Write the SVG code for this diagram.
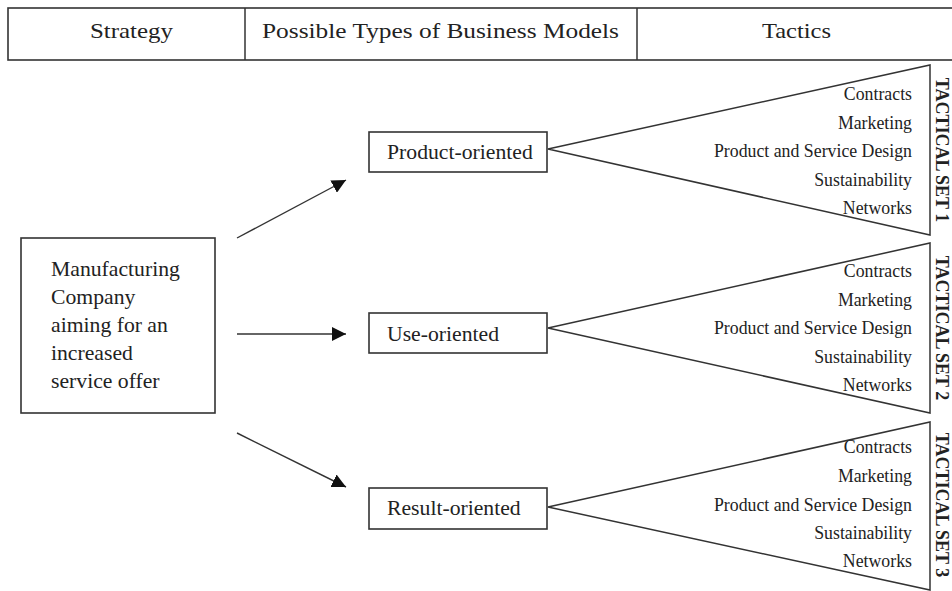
<svg xmlns="http://www.w3.org/2000/svg" width="952" height="591" viewBox="0 0 952 591">
<defs>
<marker id="ah" viewBox="0 0 10 10" refX="10" refY="5" markerWidth="14" markerHeight="14" markerUnits="userSpaceOnUse" orient="auto">
<path d="M0,0 L10,5 L0,10 z" fill="#111"/>
</marker>
<style>
.ln{fill:none;stroke:#333;stroke-width:1.5}
.box{fill:#fff;stroke:#333;stroke-width:1.6}
.hd{font-family:"Liberation Serif","Times New Roman",serif;font-size:22px;fill:#222;text-anchor:middle}
.nt{font-family:"Liberation Serif","Times New Roman",serif;font-size:21.7px;fill:#222}
.lb{font-family:"Liberation Serif","Times New Roman",serif;font-size:17.8px;fill:#222;text-anchor:end}
.ts{font-family:"Liberation Serif","Times New Roman",serif;font-size:18px;font-weight:bold;fill:#222;text-anchor:middle}
.con{fill:none;stroke:#333;stroke-width:1.4}
</style>
</defs>
<rect width="952" height="591" fill="#fff"/>

<g id="header">
<rect x="8" y="8" width="950" height="52" class="box"/>
<line x1="245" y1="8" x2="245" y2="60" class="ln"/>
<line x1="637" y1="8" x2="637" y2="60" class="ln"/>
<text x="131.5" y="38" class="hd" textLength="83" lengthAdjust="spacingAndGlyphs">Strategy</text>
<text x="440.5" y="38" class="hd" textLength="357" lengthAdjust="spacingAndGlyphs">Possible Types of Business Models</text>
<text x="796.5" y="38" class="hd" textLength="69" lengthAdjust="spacingAndGlyphs">Tactics</text>
</g>

<g id="connectors">
<line x1="237" y1="238" x2="346" y2="180" class="con" marker-end="url(#ah)"/>
<line x1="237" y1="334" x2="346" y2="334" class="con" marker-end="url(#ah)"/>
<line x1="237" y1="433" x2="346" y2="487" class="con" marker-end="url(#ah)"/>
</g>

<g id="strategy">
<rect x="21" y="238" width="194" height="175" class="box"/>
<text class="nt" x="51" y="276">Manufacturing</text>
<text class="nt" x="51" y="304">Company</text>
<text class="nt" x="51" y="332">aiming for an</text>
<text class="nt" x="51" y="360">increased</text>
<text class="nt" x="51" y="388">service offer</text>
</g>

<g id="product-oriented">
<rect x="369" y="132" width="178" height="40" class="box"/>
<text class="nt" x="387" y="159">Product-oriented</text>
</g>
<g id="use-oriented">
<rect x="369" y="313" width="178" height="40" class="box"/>
<text class="nt" x="387" y="341">Use-oriented</text>
</g>
<g id="result-oriented">
<rect x="369" y="488" width="178" height="41" class="box"/>
<text class="nt" x="387" y="515">Result-oriented</text>
</g>

<g id="tactical-set-1">
<path d="M548,149 L930,65 L930,235 Z" class="ln"/>
<text class="lb" x="912" y="100">Contracts</text>
<text class="lb" x="912" y="128.5">Marketing</text>
<text class="lb" x="912" y="157">Product and Service Design</text>
<text class="lb" x="912" y="185.5">Sustainability</text>
<text class="lb" x="912" y="214">Networks</text>
<text class="ts" transform="translate(936,150) rotate(90)">TACTICAL SET 1</text>
</g>

<g id="tactical-set-2">
<path d="M548,328 L930,243 L930,413 Z" class="ln"/>
<text class="lb" x="912" y="277">Contracts</text>
<text class="lb" x="912" y="305.5">Marketing</text>
<text class="lb" x="912" y="334">Product and Service Design</text>
<text class="lb" x="912" y="362.5">Sustainability</text>
<text class="lb" x="912" y="391">Networks</text>
<text class="ts" transform="translate(936,328) rotate(90)">TACTICAL SET 2</text>
</g>

<g id="tactical-set-3">
<path d="M548,507 L930,422 L930,590 Z" class="ln"/>
<text class="lb" x="912" y="453">Contracts</text>
<text class="lb" x="912" y="482">Marketing</text>
<text class="lb" x="912" y="510.5">Product and Service Design</text>
<text class="lb" x="912" y="539">Sustainability</text>
<text class="lb" x="912" y="567">Networks</text>
<text class="ts" transform="translate(936,505) rotate(90)">TACTICAL SET 3</text>
</g>
</svg>
